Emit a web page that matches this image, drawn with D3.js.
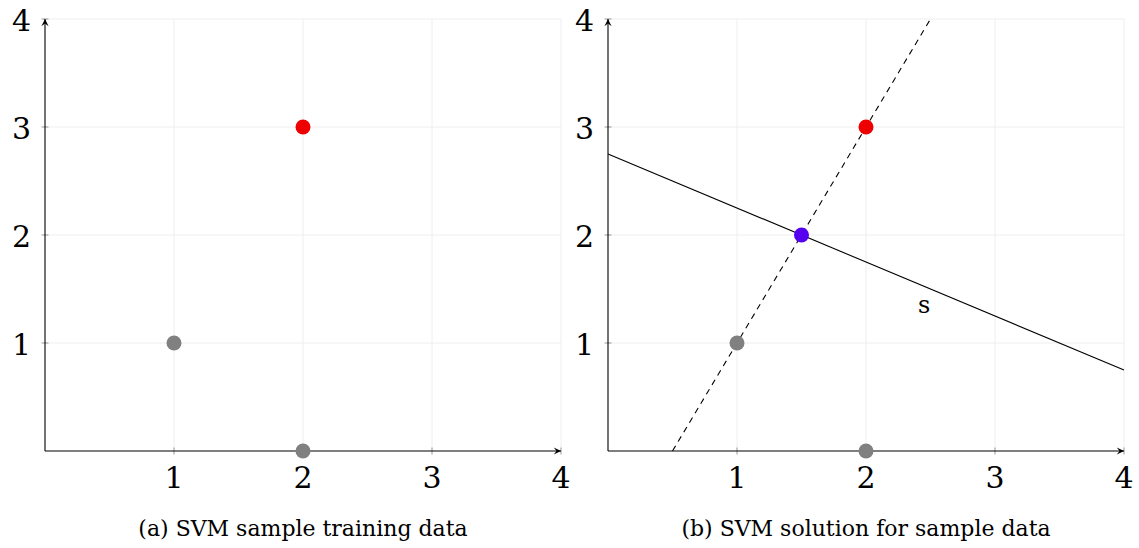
<!DOCTYPE html>
<html>
<head>
<meta charset="utf-8">
<script src="https://cdn.jsdelivr.net/npm/d3@7"></script>
<style>
  body { margin: 0; background: #fff; }
  svg text { font-family: "DejaVu Serif", "Liberation Serif", serif; }
</style>
</head>
<body>
<div id="chart"></div>
<script>
// data
var ticks = [1, 2, 3, 4];
var grayPoints = [[1, 1], [2, 0]];
var redPoints = [[2, 3]];
var purplePoints = [[1.5, 2]];
var solidLine = [[0, 2.75], [4, 0.75]];
var dashedLine = [[0.5, 0], [2.5, 4]];
var lineLabel = {x: 2.45, y: 1.35, text: 's'};
var captions = ['(a) SVM sample training data', '(b) SVM solution for sample data'];

var W = 1139, H = 548;
var svg = d3.select('#chart').append('svg').attr('width', W).attr('height', H);

var defs = svg.append('defs');
defs.append('marker')
    .attr('id', 'arr')
    .attr('viewBox', '0 0 10 10')
    .attr('refX', 9).attr('refY', 5)
    .attr('markerWidth', 9).attr('markerHeight', 9)
    .attr('markerUnits', 'userSpaceOnUse')
    .attr('orient', 'auto')
    .append('path')
    .attr('d', 'M1,1 L9,5 L1,9 L4,5 Z')
    .attr('fill', '#000');

var drawPanel = function(x0, panel) {
    var xScale = d3.scaleLinear().domain([0, 4]).range([x0, x0 + 516]);
    var yScale = d3.scaleLinear().domain([0, 4]).range([451, 19]);
    var g = svg.append('g');

    // grid
    g.selectAll('.gx').data(ticks).enter().append('line')
        .attr('x1', d => xScale(d)).attr('x2', d => xScale(d))
        .attr('y1', yScale(0)).attr('y2', yScale(4))
        .attr('stroke', '#eeeeee').attr('stroke-width', 1);
    g.selectAll('.gy').data(ticks).enter().append('line')
        .attr('x1', xScale(0)).attr('x2', xScale(4))
        .attr('y1', d => yScale(d)).attr('y2', d => yScale(d))
        .attr('stroke', '#eeeeee').attr('stroke-width', 1);

    // tick marks
    g.selectAll('.tx').data(ticks).enter().append('line')
        .attr('x1', d => xScale(d)).attr('x2', d => xScale(d))
        .attr('y1', yScale(0) - 3.5).attr('y2', yScale(0) + 3.5)
        .attr('stroke', '#999').attr('stroke-width', 1);
    g.selectAll('.ty').data(ticks).enter().append('line')
        .attr('x1', xScale(0) - 3.5).attr('x2', xScale(0) + 3.5)
        .attr('y1', d => yScale(d)).attr('y2', d => yScale(d))
        .attr('stroke', '#999').attr('stroke-width', 1);

    // axes
    g.append('line')
        .attr('x1', xScale(0)).attr('y1', yScale(0))
        .attr('x2', xScale(4)).attr('y2', yScale(0))
        .attr('stroke', '#000').attr('stroke-width', 1.1)
        .attr('marker-end', 'url(#arr)');
    g.append('line')
        .attr('x1', xScale(0)).attr('y1', yScale(0))
        .attr('x2', xScale(0)).attr('y2', yScale(4))
        .attr('stroke', '#000').attr('stroke-width', 1.1)
        .attr('marker-end', 'url(#arr)');

    // tick labels
    g.selectAll('.lx').data(ticks).enter().append('text')
        .attr('x', d => xScale(d)).attr('y', yScale(0) + 37)
        .attr('text-anchor', 'middle').attr('font-size', 30)
        .text(d => d);
    g.selectAll('.ly').data(ticks).enter().append('text')
        .attr('x', xScale(0) - 14).attr('y', d => yScale(d) + 12)
        .attr('text-anchor', 'end').attr('font-size', 30)
        .text(d => d);

    var line = d3.line().x(d => xScale(d[0])).y(d => yScale(d[1]));

    if (panel == 1) {
        g.append('path').attr('d', line(dashedLine))
            .attr('stroke', '#000').attr('stroke-width', 1.1)
            .attr('stroke-dasharray', '6,5').attr('fill', 'none');
        g.append('path').attr('d', line(solidLine))
            .attr('stroke', '#000').attr('stroke-width', 1.1).attr('fill', 'none');
        g.append('text')
            .attr('x', xScale(lineLabel.x)).attr('y', yScale(lineLabel.y) + 8)
            .attr('text-anchor', 'middle').attr('font-size', 24)
            .text(lineLabel.text);
    }

    var pts = function(data, color) {
        g.selectAll(null).data(data).enter().append('circle')
            .attr('cx', d => xScale(d[0])).attr('cy', d => yScale(d[1]))
            .attr('r', 7.5).attr('fill', color);
    };
    pts(grayPoints, '#808080');
    pts(redPoints, '#ee0000');
    if (panel == 1) pts(purplePoints, '#5500ee');

    // caption
    svg.append('text')
        .attr('x', xScale(2)).attr('y', 536)
        .attr('text-anchor', 'middle').attr('font-size', 22)
        .text(captions[panel]);
};

drawPanel(45, 0);
drawPanel(608, 1);
</script>
</body>
</html>
